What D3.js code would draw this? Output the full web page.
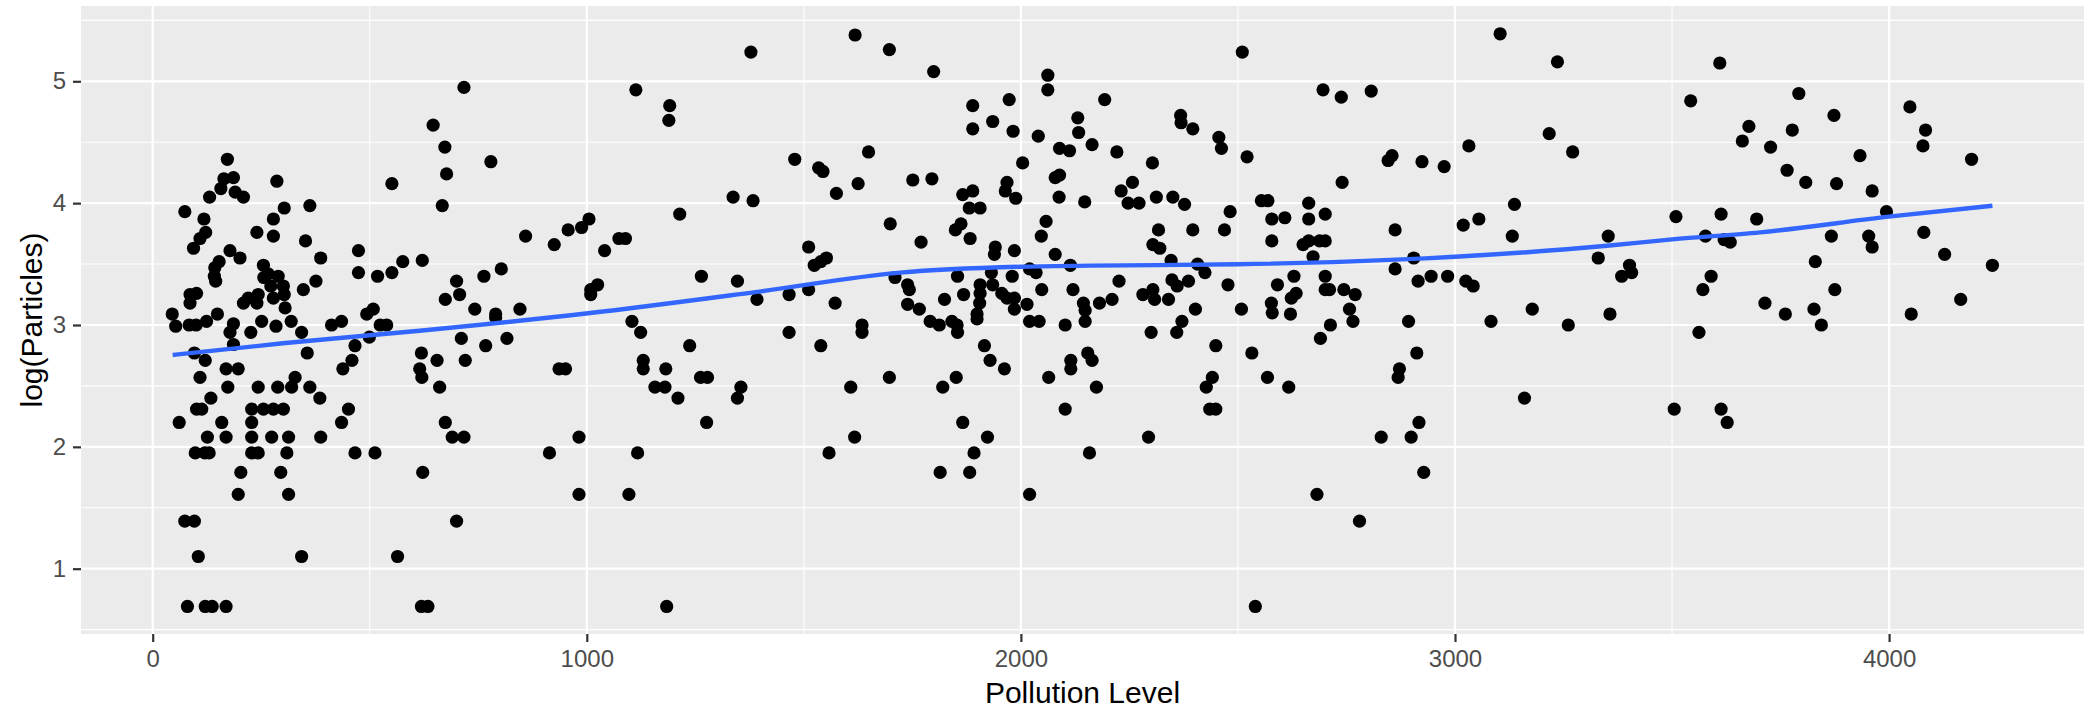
<!DOCTYPE html>
<html>
<head>
<meta charset="utf-8">
<script src="https://cdn.jsdelivr.net/npm/d3@7"></script>
<style>
    body { margin: 0; background: #fff; }
    text { font-family: "Liberation Sans", Arial, Helvetica, sans-serif; }
</style>
</head>
<body>
<svg id="chart" width="2092" height="709"></svg>
<script>
// axis breaks
const xTicks = [0, 1000, 2000, 3000, 4000];
const xMinor = [500, 1500, 2500, 3500];
const yTicks = [1, 2, 3, 4, 5];
const yMinor = [0.5, 1.5, 2.5, 3.5, 4.5, 5.5];

// fitted loess curve
const smoothX = [46, 300, 615, 1003, 1388, 1722, 1998, 2159, 2500, 2931, 3000, 3350, 3500, 3703, 3999, 4238];
const smoothY = [2.754, 2.85, 2.953, 3.096, 3.27, 3.43, 3.478, 3.487, 3.498, 3.547, 3.56, 3.65, 3.703, 3.76, 3.889, 3.979];

// [pollution level, log(particles)]
const observations = [
    [172,4.36],[164,4.20],[186,4.21],[157,4.12],[190,4.09],[209,4.05],[131,4.05],[286,4.18],[74,3.93],[118,3.87],
    [303,3.96],[362,3.98],[278,3.87],[551,4.16],[122,3.76],[109,3.71],[94,3.63],[240,3.76],[278,3.73],[352,3.69],
    [178,3.61],[201,3.55],[153,3.52],[143,3.47],[142,3.40],[145,3.36],[387,3.55],[474,3.61],[474,3.43],[518,3.40],
    [551,3.43],[576,3.52],[255,3.49],[266,3.42],[256,3.39],[289,3.40],[272,3.32],[301,3.32],[303,3.25],[278,3.22],
    [376,3.36],[347,3.29],[86,3.25],[101,3.26],[86,3.18],[209,3.18],[220,3.22],[243,3.25],[240,3.18],[305,3.14],
    [45,3.09],[149,3.09],[493,3.09],[508,3.13],
    [53,2.99],[84,3.00],[100,3.00],[124,3.03],[178,2.94],[186,3.01],[226,2.94],[251,3.03],[284,2.99],[319,3.03],
    [343,2.94],[412,3.00],[435,3.03],[499,2.90],[524,3.00],[539,3.00],[186,2.84],[96,2.77],[121,2.71],[356,2.77],
    [466,2.83],[459,2.71],[438,2.64],[169,2.64],[197,2.64],[109,2.57],[328,2.57],[173,2.49],[243,2.49],[288,2.49],
    [320,2.49],[362,2.49],[134,2.40],[385,2.40],[101,2.31],[113,2.31],[228,2.31],[255,2.31],[278,2.31],[301,2.31],
    [451,2.31],[61,2.20],[159,2.20],[228,2.20],[435,2.20],[126,2.08],[169,2.08],[228,2.08],[274,2.08],[313,2.08],
    [387,2.08],[98,1.95],[120,1.95],[130,1.95],[228,1.95],[243,1.95],[309,1.95],[466,1.95],[512,1.95],[203,1.79],
    [295,1.79],[197,1.61],[313,1.61],[74,1.39],[96,1.39],[105,1.10],[343,1.10],[564,1.10],[80,0.69],[121,0.69],
    [137,0.69],[169,0.69],
    [1378,5.24],[717,4.95],[1113,4.93],[1191,4.80],[1189,4.68],[646,4.64],[673,4.46],[779,4.34],[677,4.24],[667,3.98],
    [1337,4.05],[1383,4.02],[1214,3.91],[1005,3.87],[988,3.80],[957,3.78],[859,3.73],[925,3.66],[1041,3.61],[1074,3.71],
    [1089,3.71],[621,3.53],[803,3.46],[763,3.40],[700,3.36],[1264,3.40],[1347,3.36],[674,3.21],[707,3.25],[742,3.13],
    [790,3.09],[790,3.06],[846,3.13],[1009,3.25],[1009,3.29],[1025,3.33],
    [1104,3.03],[1124,2.94],[619,2.77],[655,2.71],[711,2.89],[720,2.71],[767,2.83],[816,2.89],[615,2.64],[620,2.57],
    [661,2.49],[936,2.64],[951,2.64],[1130,2.71],[1130,2.64],[1182,2.64],[1237,2.83],[1262,2.57],[1278,2.57],[1157,2.49],
    [1180,2.49],[1210,2.40],[1355,2.49],[1347,2.40],[674,2.20],[690,2.08],[717,2.08],[982,2.08],[1276,2.20],[914,1.95],
    [1117,1.95],[622,1.79],[982,1.61],[1097,1.61],[700,1.39],[619,0.69],[634,0.69],[1184,0.69],
    [1618,5.38],[1697,5.26],[1799,5.08],[2062,5.05],[2062,4.93],[1889,4.80],[1889,4.61],[1973,4.85],[1935,4.67],[1982,4.59],
    [2040,4.55],[2131,4.70],[2133,4.58],[2089,4.45],[2112,4.43],[1649,4.42],[1479,4.36],[1534,4.29],[1544,4.26],[1751,4.19],
    [1795,4.20],[1625,4.16],[1575,4.08],[1968,4.17],[1964,4.10],[1988,4.04],[2004,4.33],[2079,4.21],[2089,4.23],[2088,4.05],
    [2147,4.01],[1866,4.07],[1889,4.10],[1881,3.96],[1906,3.96],[1699,3.83],[1849,3.78],[1862,3.83],[1883,3.71],[1770,3.68],
    [2058,3.85],[2047,3.73],[1941,3.64],[1939,3.58],[1985,3.61],[2079,3.58],[2114,3.49],[1511,3.64],[1524,3.49],[1539,3.52],
    [1552,3.55],[2020,3.46],[2035,3.43],[1710,3.39],[1854,3.40],[1932,3.43],[1980,3.40],[1739,3.33],[1743,3.29],[1906,3.33],
    [1906,3.26],[1935,3.33],[1905,3.18],[1956,3.26],[1968,3.22],[1985,3.22],[1985,3.13],[2048,3.29],[2120,3.29],[1392,3.21],
    [1466,3.25],[1511,3.29],[1572,3.18],[1868,3.25],[1824,3.21],[1739,3.17],[1766,3.13],[1899,3.09],[2014,3.17],[2144,3.18],
    [2148,3.12],
    [1791,3.03],[1812,3.00],[1841,3.03],[1853,3.00],[1854,2.94],[1899,3.05],[2020,3.03],[2042,3.03],[2102,3.00],[2148,3.03],
    [1634,3.00],[1634,2.94],[1466,2.94],[1539,2.83],[1916,2.83],[1929,2.71],[1962,2.64],[2115,2.71],[2115,2.64],[2064,2.57],
    [1697,2.57],[1820,2.49],[1851,2.57],[1608,2.49],[2102,2.31],[1866,2.20],[1617,2.08],[1923,2.08],[1558,1.95],[1892,1.95],
    [1814,1.79],[1882,1.79],[2020,1.61],
    [2510,5.24],[2193,4.85],[2696,4.93],[2738,4.87],[2807,4.92],[2368,4.72],[2369,4.66],[2396,4.61],[2456,4.54],[2462,4.45],
    [2164,4.48],[2221,4.42],[2303,4.33],[2521,4.38],[2846,4.35],[2855,4.39],[2924,4.34],[2257,4.17],[2231,4.10],[2247,4.00],
    [2272,4.00],[2312,4.05],[2350,4.05],[2377,3.99],[2740,4.17],[2554,4.02],[2569,4.02],[2663,4.00],[2482,3.93],[2578,3.87],
    [2608,3.88],[2663,3.87],[2701,3.91],[2317,3.78],[2396,3.78],[2469,3.78],[2862,3.78],[2304,3.66],[2320,3.63],[2578,3.69],
    [2650,3.66],[2663,3.69],[2688,3.69],[2701,3.69],[2673,3.56],[2346,3.53],[2407,3.50],[2424,3.43],[2905,3.55],[2862,3.46],
    [2915,3.36],[2226,3.36],[2348,3.37],[2360,3.32],[2386,3.36],[2281,3.25],[2304,3.29],[2308,3.21],[2340,3.21],[2181,3.18],
    [2210,3.21],[2477,3.33],[2629,3.40],[2591,3.33],[2623,3.22],[2634,3.26],[2701,3.40],[2701,3.29],[2711,3.29],[2744,3.29],
    [2770,3.25],[2757,3.13],[2402,3.13],[2508,3.13],[2577,3.18],[2579,3.10],[2621,3.09],
    [2154,2.77],[2164,2.71],[2174,2.49],[2158,1.95],[2300,2.94],[2359,2.94],[2371,3.03],[2449,2.83],[2441,2.57],[2427,2.49],
    [2435,2.31],[2449,2.31],[2294,2.08],[2532,2.77],[2568,2.57],[2617,2.49],[2713,3.00],[2690,2.89],[2765,3.03],[2893,3.03],
    [2912,2.77],[2872,2.64],[2869,2.57],[2917,2.20],[2830,2.08],[2899,2.08],[2928,1.79],[2682,1.61],[2780,1.39],[2540,0.69],
    [3104,5.39],[3236,5.16],[3610,5.15],[3543,4.84],[3677,4.63],[3662,4.51],[3217,4.57],[3271,4.42],[3032,4.47],[2975,4.30],
    [3137,3.99],[3019,3.82],[3055,3.87],[3132,3.73],[3353,3.73],[3330,3.55],[3402,3.49],[3384,3.40],[3407,3.43],[3509,3.89],
    [3613,3.91],[3695,3.87],[3577,3.73],[3620,3.70],[3634,3.68],[3590,3.40],[3571,3.29],[2945,3.40],[2983,3.40],[3025,3.36],
    [3042,3.32],[3178,3.13],[3357,3.09],
    [3083,3.03],[3261,3.00],[3562,2.94],[3160,2.40],[3505,2.31],[3613,2.31],[3627,2.20],
    [3792,4.90],[3873,4.72],[3777,4.60],[3727,4.46],[3933,4.39],[3765,4.27],[3808,4.17],[3879,4.16],[3961,4.10],[3994,3.93],
    [4048,4.79],[4084,4.60],[4078,4.47],[4190,4.36],[4080,3.76],[4128,3.58],[4238,3.49],[3867,3.73],[3953,3.73],[3961,3.64],
    [3830,3.52],[3875,3.29],[3714,3.18],[3761,3.09],[3827,3.13],[4051,3.09],[4165,3.21],[3844,3.00]
];

const width = 2092;
const height = 709;
const panel = { left: 81, right: 2084, top: 6, bottom: 634 };

const svg = d3.select('#chart');

const x = d3.scaleLinear()
    .domain([-165.2, 4449])
    .range([panel.left, panel.right]);

const y = d3.scaleLinear()
    .domain([0.464, 5.618])
    .range([panel.bottom, panel.top]);

// panel background + grid
svg.append('rect')
    .attr('x', panel.left)
    .attr('y', panel.top)
    .attr('width', panel.right - panel.left)
    .attr('height', panel.bottom - panel.top)
    .attr('fill', '#EBEBEB');

const grid = svg.append('g').attr('class', 'grid');

grid.selectAll('.x-minor').data(xMinor).join('line')
    .attr('x1', d => x(d)).attr('x2', d => x(d))
    .attr('y1', panel.top).attr('y2', panel.bottom)
    .attr('stroke', '#fff').attr('stroke-width', 1.1);

grid.selectAll('.y-minor').data(yMinor).join('line')
    .attr('y1', d => y(d)).attr('y2', d => y(d))
    .attr('x1', panel.left).attr('x2', panel.right)
    .attr('stroke', '#fff').attr('stroke-width', 1.1);

grid.selectAll('.x-major').data(xTicks).join('line')
    .attr('x1', d => x(d)).attr('x2', d => x(d))
    .attr('y1', panel.top).attr('y2', panel.bottom)
    .attr('stroke', '#fff').attr('stroke-width', 2.2);

grid.selectAll('.y-major').data(yTicks).join('line')
    .attr('y1', d => y(d)).attr('y2', d => y(d))
    .attr('x1', panel.left).attr('x2', panel.right)
    .attr('stroke', '#fff').attr('stroke-width', 2.2);

// points
svg.append('g')
    .selectAll('circle')
    .data(observations)
    .join('circle')
    .attr('cx', d => x(d[0]))
    .attr('cy', d => y(d[1]))
    .attr('r', 6.6)
    .attr('fill', '#000');

// smoother
const smooth = smoothX.map((v, i) => [v, smoothY[i]]);
const line = d3.line()
    .curve(d3.curveMonotoneX)
    .x(d => x(d[0]))
    .y(d => y(d[1]));

svg.append('path')
    .datum(smooth)
    .attr('fill', 'none')
    .attr('stroke', '#3366FF')
    .attr('stroke-width', 4.4)
    .attr('d', line);

// axes
const xAxis = svg.append('g')
    .attr('transform', `translate(0,${panel.bottom})`)
    .call(d3.axisBottom(x).tickValues(xTicks).tickFormat(d3.format('d')).tickSize(8).tickPadding(8));

const yAxis = svg.append('g')
    .attr('transform', `translate(${panel.left},0)`)
    .call(d3.axisLeft(y).tickValues(yTicks).tickFormat(d3.format('d')).tickSize(8).tickPadding(7));

[xAxis, yAxis].forEach(ax => {
    ax.select('.domain').remove();
    ax.selectAll('.tick line').attr('stroke', '#333333').attr('stroke-width', 2.2);
    ax.selectAll('.tick text')
        .attr('fill', '#4D4D4D')
        .style('font-size', '24px')
        .style('font-family', '"Liberation Sans", Arial, sans-serif');
});

// titles
svg.append('text')
    .attr('x', (panel.left + panel.right) / 2)
    .attr('y', 703)
    .attr('text-anchor', 'middle')
    .style('font-size', '30px')
    .attr('fill', '#000')
    .text('Pollution Level');

svg.append('text')
    .attr('transform', `translate(41.5,${(panel.top + panel.bottom) / 2}) rotate(-90)`)
    .attr('text-anchor', 'middle')
    .style('font-size', '30px')
    .attr('fill', '#000')
    .text('log(Particles)');
</script>
</body>
</html>
